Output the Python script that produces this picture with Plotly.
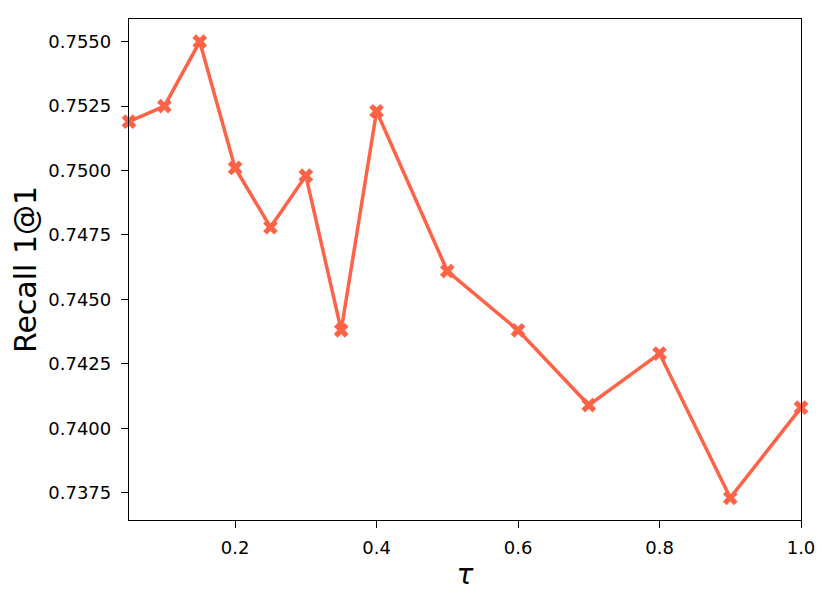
import plotly.graph_objects as go

tau = [0.05, 0.1, 0.15, 0.2, 0.25, 0.3, 0.35, 0.4, 0.5, 0.6, 0.7, 0.8, 0.9, 1.0]
recall = [0.7519, 0.7525, 0.7550, 0.7501, 0.7478, 0.7498, 0.7438, 0.7523,
          0.7461, 0.7438, 0.7409, 0.7429, 0.7373, 0.7408]
x_ticks = [0.2, 0.4, 0.6, 0.8, 1.0]
x_tick_labels = ["0.2", "0.4", "0.6", "0.8", "1.0"]
y_ticks = [0.7375, 0.7400, 0.7425, 0.7450, 0.7475, 0.7500, 0.7525, 0.7550]
y_tick_labels = ["0.7375", "0.7400", "0.7425", "0.7450", "0.7475", "0.7500", "0.7525", "0.7550"]

color = "#FF6347"
fig = go.Figure()
fig.add_trace(go.Scatter(
    x=tau, y=recall, mode="lines+markers",
    line=dict(color=color, width=3.5),
    marker=dict(symbol="x", size=13, color=color),
    cliponaxis=False,
))

font = "DejaVu Sans, Arial, sans-serif"
# page body has an 8px margin; figure is sized so it fits the 830x603 window
fig.update_layout(
    width=814, height=587,
    margin=dict(l=121, r=21, t=11, b=75),
    paper_bgcolor="white", plot_bgcolor="white",
    showlegend=False,
    font=dict(family=font, color="black", size=18),
    xaxis=dict(
        range=[0.05, 1.0], tickvals=x_ticks, ticktext=x_tick_labels,
        showgrid=False, zeroline=False,
        showline=True, linecolor="black", linewidth=1.3, mirror=True,
        ticks="outside", ticklen=7, tickwidth=1.3, tickcolor="black",
        tickfont=dict(size=18), ticklabelstandoff=4,
        title=dict(text="<i>τ</i>", font=dict(size=28), standoff=7),
        automargin=False,
    ),
    yaxis=dict(
        range=[0.73644, 0.75588], tickvals=y_ticks, ticktext=y_tick_labels,
        showgrid=False, zeroline=False,
        showline=True, linecolor="black", linewidth=1.3, mirror=True,
        ticks="outside", ticklen=7, tickwidth=1.3, tickcolor="black",
        tickfont=dict(size=18), ticklabelstandoff=6,
        title=dict(text="Recall 1@1", font=dict(size=30), standoff=12),
        automargin=False,
    ),
)

fig.write_html("out.html")
